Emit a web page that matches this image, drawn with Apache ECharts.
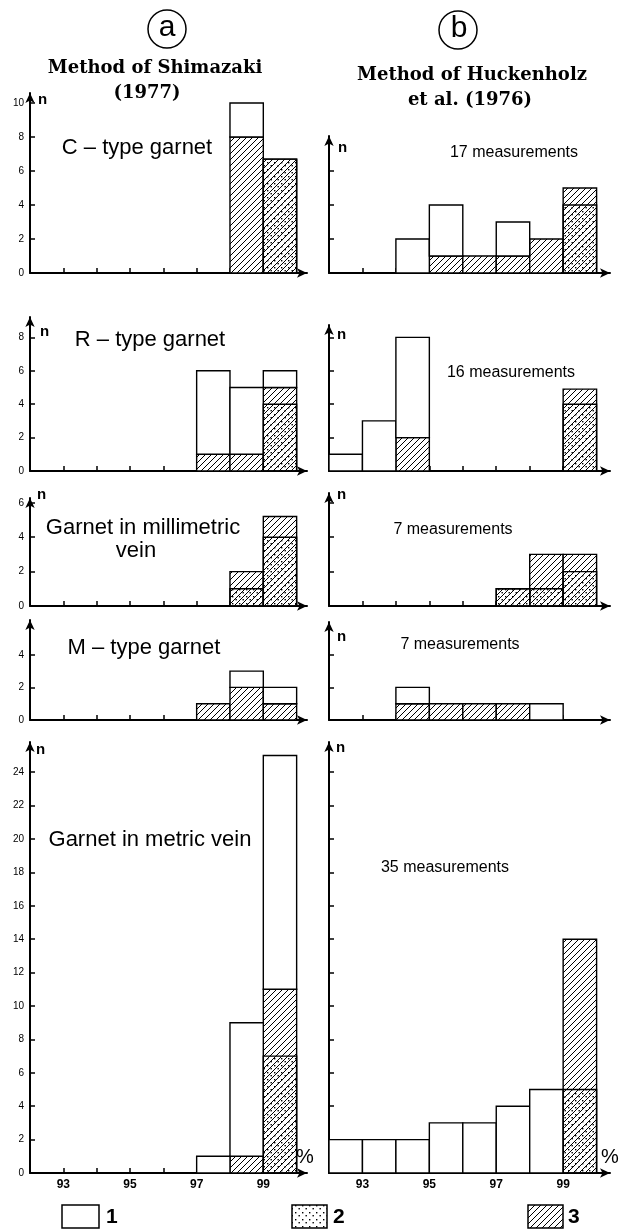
<!DOCTYPE html>
<html><head><meta charset="utf-8">
<script src="https://cdn.jsdelivr.net/npm/echarts@6/dist/echarts.min.js"></script>
<style>html,body{margin:0;padding:0;background:#fff}#c{width:620px;height:1232px}</style>
</head><body><div id="c"></div>
<script>
// ---- DATA (counts per 1 % bin, bins start at the listed value) ----
const bins = [92, 93, 94, 95, 96, 97, 98, 99];
const xTickValues = [93, 94, 95, 96, 97, 98, 99];
const xLabelValues = [93, 95, 97, 99];
const yTicksC = [0, 2, 4, 6, 8, 10];
const yTicksR = [0, 2, 4, 6, 8];
const yTicksMm = [0, 2, 4, 6];
const yTicksM = [0, 2, 4];
const yTicksMetric = [0, 2, 4, 6, 8, 10, 12, 14, 16, 18, 20, 22, 24];

// series 1 = open, 2 = dotted, 3 = hatched (2 is drawn over 3 from zero)
const cTypeA_open    = [0, 0, 0, 0, 0, 0, 2, 0];
const cTypeA_dotted  = [0, 0, 0, 0, 0, 0, 0, 6.7];
const cTypeA_hatched = [0, 0, 0, 0, 0, 0, 8, 6.7];
const cTypeB_open    = [0, 0, 2, 3, 0, 2, 0, 0];
const cTypeB_dotted  = [0, 0, 0, 0, 0, 0, 0, 4];
const cTypeB_hatched = [0, 0, 0, 1, 1, 1, 2, 5];

const rTypeA_open    = [0, 0, 0, 0, 0, 5, 4, 1];
const rTypeA_dotted  = [0, 0, 0, 0, 0, 0, 0, 4];
const rTypeA_hatched = [0, 0, 0, 0, 0, 1, 1, 5];
const rTypeB_open    = [1, 3, 6, 0, 0, 0, 0, 0];
const rTypeB_dotted  = [0, 0, 0, 0, 0, 0, 0, 4];
const rTypeB_hatched = [0, 0, 2, 0, 0, 0, 0, 4.9];

const mmVeinA_open    = [0, 0, 0, 0, 0, 0, 0, 0];
const mmVeinA_dotted  = [0, 0, 0, 0, 0, 0, 1, 4];
const mmVeinA_hatched = [0, 0, 0, 0, 0, 0, 2, 5.2];
const mmVeinB_open    = [0, 0, 0, 0, 0, 0, 0, 0];
const mmVeinB_dotted  = [0, 0, 0, 0, 0, 1, 1, 2];
const mmVeinB_hatched = [0, 0, 0, 0, 0, 1, 3, 3];

const mTypeA_open    = [0, 0, 0, 0, 0, 0, 1, 1];
const mTypeA_dotted  = [0, 0, 0, 0, 0, 0, 0, 0];
const mTypeA_hatched = [0, 0, 0, 0, 0, 1, 2, 1];
const mTypeB_open    = [0, 0, 1, 0, 0, 0, 1, 0];
const mTypeB_dotted  = [0, 0, 0, 0, 0, 0, 0, 0];
const mTypeB_hatched = [0, 0, 1, 1, 1, 1, 0, 0];

const metricA_open    = [0, 0, 0, 0, 0, 1, 8, 14];
const metricA_dotted  = [0, 0, 0, 0, 0, 0, 0, 7];
const metricA_hatched = [0, 0, 0, 0, 0, 0, 1, 11];
const metricB_open    = [2, 2, 2, 3, 3, 4, 5, 0];
const metricB_dotted  = [0, 0, 0, 0, 0, 0, 0, 5];
const metricB_hatched = [0, 0, 0, 0, 0, 0, 0, 14];

// ---- LAYOUT ----
const cols = [
  {left: 30, tip: 312, bin: 33.33},
  {left: 329, tip: 615, bin: 33.45}
];
const rows = [
  {zero: 273, top: [88, 131], ppu: 17},
  {zero: 471, top: [312, 320], ppu: 16.7},
  {zero: 606, top: [493, 488], ppu: 17.2},
  {zero: 720, top: [615, 617], ppu: 16.3},
  {zero: 1173, top: [737, 737], ppu: 16.7}
];
const panels = [
  {row: 0, col: 0, o: cTypeA_open, d: cTypeA_dotted, h: cTypeA_hatched, t: yTicksC},
  {row: 0, col: 1, o: cTypeB_open, d: cTypeB_dotted, h: cTypeB_hatched, t: yTicksC},
  {row: 1, col: 0, o: rTypeA_open, d: rTypeA_dotted, h: rTypeA_hatched, t: yTicksR},
  {row: 1, col: 1, o: rTypeB_open, d: rTypeB_dotted, h: rTypeB_hatched, t: yTicksR},
  {row: 2, col: 0, o: mmVeinA_open, d: mmVeinA_dotted, h: mmVeinA_hatched, t: yTicksMm},
  {row: 2, col: 1, o: mmVeinB_open, d: mmVeinB_dotted, h: mmVeinB_hatched, t: yTicksMm},
  {row: 3, col: 0, o: mTypeA_open, d: mTypeA_dotted, h: mTypeA_hatched, t: yTicksM},
  {row: 3, col: 1, o: mTypeB_open, d: mTypeB_dotted, h: mTypeB_hatched, t: yTicksM},
  {row: 4, col: 0, o: metricA_open, d: metricA_dotted, h: metricA_hatched, t: yTicksMetric},
  {row: 4, col: 1, o: metricB_open, d: metricB_dotted, h: metricB_hatched, t: yTicksMetric}
];

// ---- PATTERNS ----
function hatchCanvas() {
  const s = 6, c = document.createElement('canvas');
  c.width = s; c.height = s;
  const g = c.getContext('2d');
  g.fillStyle = '#fff'; g.fillRect(0, 0, s, s);
  g.strokeStyle = '#000'; g.lineWidth = 1;
  g.beginPath();
  g.moveTo(-1, s + 1); g.lineTo(s + 1, -1);
  g.moveTo(-1, 1); g.lineTo(1, -1);
  g.moveTo(s - 1, s + 1); g.lineTo(s + 1, s - 1);
  g.stroke();
  return c;
}
function dotCanvas() {
  const s = 7, c = document.createElement('canvas');
  c.width = s; c.height = s;
  const g = c.getContext('2d');
  g.fillStyle = '#000';
  g.fillRect(1, 1, 1.4, 1.4);
  g.fillRect(4.5, 4, 1.4, 1.4);
  return c;
}
const hatchFill = {image: hatchCanvas(), repeat: 'repeat'};
const dotFill = {image: dotCanvas(), repeat: 'repeat'};

const FONT = '"Liberation Sans", Arial, sans-serif';
const grids = [], xAxes = [], yAxes = [], series = [];

function rectSeries(name, idx, data, fill, z) {
  return {
    type: 'custom', name: name, xAxisIndex: idx, yAxisIndex: idx, z: z,
    data: data, encode: {x: 0, y: [1, 2]}, animation: false, silent: true,
    renderItem: function (params, api) {
      const x0 = api.value(0), y0 = api.value(1), y1 = api.value(2);
      const a = api.coord([x0, y1]), b = api.coord([x0 + 1, y0]);
      return {type: 'rect', shape: {x: a[0], y: a[1], width: b[0] - a[0], height: b[1] - a[1]},
        style: {fill: fill, stroke: '#000', lineWidth: 1.4}};
    }
  };
}

panels.forEach(function (p, i) {
  const r = rows[p.row], c = cols[p.col];
  const gTop = r.top[p.col] + 5;
  const height = r.zero - gTop;
  const width = c.tip - 5 - c.left;
  const yMax = height / r.ppu;
  const xMax = 92 + width / c.bin;
  const ticks = p.t.filter(function (v) { return v <= yMax - 0.2; });
  const bottom = p.row === 4;
  grids.push({left: c.left, top: gTop, width: width, height: height});
  xAxes.push({
    gridIndex: i, type: 'value', min: 92, max: xMax,
    axisLine: {show: true, onZero: false, symbol: ['none', 'arrow'], symbolSize: [7, 10],
      lineStyle: {color: '#000', width: 2}},
    axisTick: {show: true, inside: true, length: 5, customValues: xTickValues,
      lineStyle: {color: '#000', width: 1.5}},
    axisLabel: {show: bottom, customValues: xLabelValues, color: '#000', margin: 6,
      fontSize: 12, fontWeight: 'bold', fontFamily: FONT},
    splitLine: {show: false}
  });
  yAxes.push({
    gridIndex: i, type: 'value', min: 0, max: yMax,
    axisLine: {show: true, onZero: false, symbol: ['none', 'arrow'], symbolSize: [7, 10],
      lineStyle: {color: '#000', width: 2}},
    axisTick: {show: true, inside: true, length: 5, customValues: ticks,
      lineStyle: {color: '#000', width: 1.5}},
    axisLabel: {show: p.col === 0, customValues: ticks, color: '#000', margin: 6,
      fontSize: 10, fontFamily: FONT},
    splitLine: {show: false}
  });
  const hat = [], dot = [], opn = [];
  bins.forEach(function (b, k) {
    const h = p.h[k], d = p.d[k], o = p.o[k];
    if (h > 0) hat.push([b, 0, h]);
    if (d > 0) dot.push([b, 0, d]);
    const base = Math.max(h, d);
    if (o > 0) opn.push([b, base, base + o]);
  });
  series.push(rectSeries('3', i, hat, hatchFill, 3));
  series.push(rectSeries('2', i, dot, dotFill, 4));
  series.push(rectSeries('1', i, opn, '#fff', 3));
});

function txt(x, y, text, font, align) {
  return {type: 'text', x: x, y: y, silent: true, z: 10,
    style: {text: text, font: font, fill: '#000', align: align || 'center', verticalAlign: 'middle'}};
}
const SERIF = 'bold 18px "DejaVu Serif", "Liberation Serif", serif';
const LAB = '22px ' + FONT;
const MEAS = '16px ' + FONT;
const NF = 'bold 15px ' + FONT;
const elements = [
  {type: 'circle', shape: {cx: 167, cy: 29, r: 19}, style: {fill: 'none', stroke: '#000', lineWidth: 1.5}},
  txt(167, 28, 'a', '30px ' + FONT),
  {type: 'circle', shape: {cx: 458, cy: 30, r: 19}, style: {fill: 'none', stroke: '#000', lineWidth: 1.5}},
  txt(459, 29, 'b', '30px ' + FONT),
  txt(155, 68, 'Method of Shimazaki', SERIF),
  txt(147, 93, '(1977)', SERIF),
  txt(472, 75, 'Method of Huckenholz', SERIF),
  txt(470, 100, 'et al. (1976)', SERIF),
  txt(137, 148, 'C \u2013 type garnet', LAB),
  txt(150, 340, 'R \u2013 type garnet', LAB),
  txt(143, 528, 'Garnet in millimetric', LAB),
  txt(136, 551, 'vein', LAB),
  txt(144, 648, 'M \u2013 type garnet', LAB),
  txt(150, 840, 'Garnet in metric vein', LAB),
  txt(514, 153, '17 measurements', MEAS),
  txt(511, 373, '16 measurements', MEAS),
  txt(453, 530, '7 measurements', MEAS),
  txt(460, 645, '7 measurements', MEAS),
  txt(445, 868, '35 measurements', MEAS),
  txt(38, 100, 'n', NF, 'left'),
  txt(40, 332, 'n', NF, 'left'),
  txt(37, 495, 'n', NF, 'left'),
  txt(36, 750, 'n', NF, 'left'),
  txt(338, 148, 'n', NF, 'left'),
  txt(337, 335, 'n', NF, 'left'),
  txt(337, 495, 'n', NF, 'left'),
  txt(337, 637, 'n', NF, 'left'),
  txt(336, 748, 'n', NF, 'left'),
  txt(305, 1157, '%', '20px ' + FONT),
  txt(610, 1157, '%', '20px ' + FONT),
  {type: 'rect', shape: {x: 62, y: 1205, width: 37, height: 23}, style: {fill: '#fff', stroke: '#000', lineWidth: 1.5}},
  txt(106, 1217, '1', 'bold 21px ' + FONT, 'left'),
  {type: 'rect', shape: {x: 292, y: 1205, width: 35, height: 23}, style: {fill: dotFill, stroke: '#000', lineWidth: 1.5}},
  txt(333, 1217, '2', 'bold 21px ' + FONT, 'left'),
  {type: 'rect', shape: {x: 528, y: 1205, width: 35, height: 23}, style: {fill: hatchFill, stroke: '#000', lineWidth: 1.5}},
  txt(568, 1217, '3', 'bold 21px ' + FONT, 'left')
];

const chart = echarts.init(document.getElementById('c'), null, {renderer: 'canvas'});
chart.setOption({
  backgroundColor: '#fff',
  animation: false,
  grid: grids, xAxis: xAxes, yAxis: yAxes, series: series,
  graphic: {elements: elements}
});
</script></body></html>
